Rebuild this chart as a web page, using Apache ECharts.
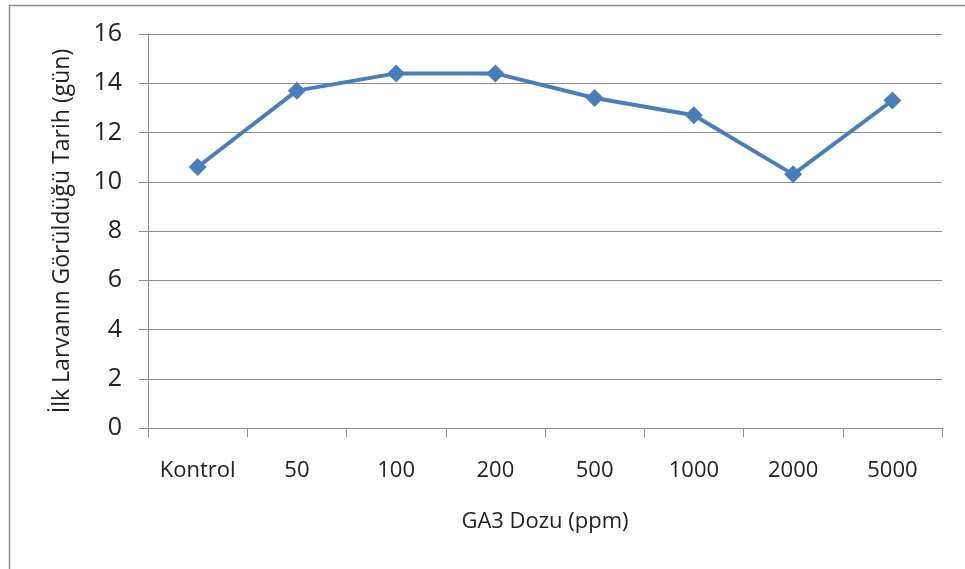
<!DOCTYPE html>
<html>
<head>
<meta charset="utf-8">
<script src="https://cdn.jsdelivr.net/npm/echarts@6/dist/echarts.min.js"></script>
<style>
  html, body { margin: 0; padding: 0; background: #fff; }
  #chart { width: 965px; height: 569px; }
</style>
</head>
<body>
<div id="chart"></div>
<script>
// GA3 doses and the day the first larva appeared
const categories = ['Kontrol', '50', '100', '200', '500', '1000', '2000', '5000'];
const firstLarvaDay = [10.6, 13.7, 14.4, 14.4, 13.4, 12.7, 10.3, 13.3];
const yTicks = [0, 2, 4, 6, 8, 10, 12, 14, 16];

const fontFamily = '"Open Sans", "Liberation Sans", sans-serif';
const chart = echarts.init(document.getElementById('chart'), null, { renderer: 'canvas' });

chart.setOption({
  backgroundColor: '#ffffff',
  animation: false,
  graphic: [
    { type: 'polyline', shape: { points: [[9.5, 569], [9.5, 5.5], [965, 5.5]] },
      style: { stroke: '#8c8c8c', lineWidth: 1.5, fill: null } }
  ],
  grid: { left: 148, right: 23, top: 34, bottom: 141 },
  xAxis: {
    type: 'category',
    data: categories,
    boundaryGap: true,
    name: 'GA3 Dozu (ppm)',
    nameLocation: 'middle',
    nameGap: 83,
    nameTextStyle: { fontFamily, fontSize: 22, color: '#222' },
    axisLine: { lineStyle: { color: '#8c8c8c', width: 1 } },
    axisTick: { show: true, interval: 0, alignWithLabel: false, length: 9, lineStyle: { color: '#8c8c8c' } },
    axisLabel: { interval: 0, hideOverlap: false, fontFamily, fontSize: 22, color: '#222', margin: 32 },
    splitLine: { show: false }
  },
  yAxis: {
    type: 'value',
    min: yTicks[0],
    max: yTicks[yTicks.length - 1],
    interval: 2,
    name: 'İlk Larvanın Görüldüğü Tarih (gün)',
    nameLocation: 'middle',
    nameGap: 74,
    nameTextStyle: { fontFamily, fontSize: 23, color: '#222' },
    axisLine: { show: true, lineStyle: { color: '#8c8c8c', width: 1 } },
    axisTick: { show: true, inside: false, length: 9, lineStyle: { color: '#8c8c8c' } },
    axisLabel: { fontFamily, fontSize: 25, color: '#222', margin: 26 },
    splitLine: { show: true, lineStyle: { color: '#8c8c8c', width: 1 } }
  },
  series: [{
    type: 'line',
    data: firstLarvaDay,
    symbol: 'diamond',
    symbolSize: 18,
    lineStyle: { color: '#4a7ebb', width: 4 },
    itemStyle: { color: '#4a7ebb' }
  }]
});
</script>
</body>
</html>
